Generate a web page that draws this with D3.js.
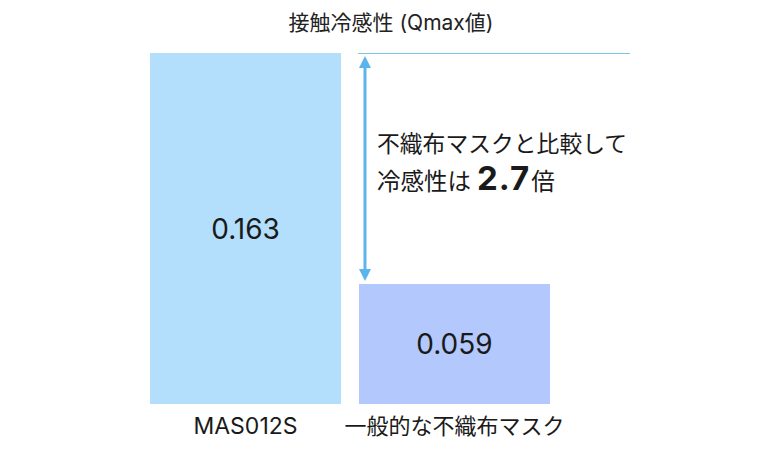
<!DOCTYPE html>
<html><head><meta charset="utf-8">
<script src="https://cdn.jsdelivr.net/npm/d3@7/dist/d3.min.js"></script>
<style>
html,body{margin:0;padding:0;background:#fff;}
svg{display:block;font-family:"Inter","Noto Sans CJK JP","Noto Sans",sans-serif;}
</style></head>
<body>
<svg id="chart" width="780" height="450"></svg>
<script>
const categories = ["MAS012S", "一般的な不織布マスク"];
const values = [0.163, 0.059];
const valueLabels = ["0.163", "0.059"];
const barColors = ["#b3dffc", "#b3c8fc"];
const title = "接触冷感性 (Qmax値)";
const noteLine1 = "不織布マスクと比較して";
const notePre = "冷感性は";
const ratio = "2.7";
const notePost = "倍";
const axisStart = 0.005; // estimated visual baseline value

const svg = d3.select("#chart");
const x = d3.scaleBand().domain(categories).range([150, 550]).paddingInner(0.086).paddingOuter(0);
const y = d3.scaleLinear().domain([axisStart, 0.163]).range([404, 53]);

svg.append("text").attr("x", 391).attr("y", 30).attr("text-anchor", "middle")
  .attr("font-size", 21).attr("fill", "#222").text(title);

svg.selectAll("rect.bar").data(values).join("rect").attr("class", "bar")
  .attr("x", (d, i) => x(categories[i])).attr("width", x.bandwidth())
  .attr("y", d => y(d)).attr("height", d => y(axisStart) - y(d))
  .attr("fill", (d, i) => barColors[i]);

svg.selectAll("text.val").data(values).join("text").attr("class", "val")
  .attr("x", (d, i) => x(categories[i]) + x.bandwidth() / 2)
  .attr("y", d => (y(d) + y(axisStart)) / 2 + 10)
  .attr("text-anchor", "middle").attr("font-size", 28).attr("fill", "#1a1a1a")
  .text((d, i) => valueLabels[i]);

svg.selectAll("text.cat").data(categories).join("text").attr("class", "cat")
  .attr("x", d => x(d) + x.bandwidth() / 2).attr("y", 434)
  .attr("text-anchor", "middle").attr("font-size", (d, i) => i === 0 ? 23 : 22).attr("fill", "#1a1a1a")
  .text(d => d);

// reference line at top value
const x2 = x(categories[1]);
svg.append("line").attr("x1", x2 - 1).attr("x2", 630)
  .attr("y1", y(values[0]) + 0.5).attr("y2", y(values[0]) + 0.5)
  .attr("stroke", "#7cc4e6").attr("stroke-width", 1.2);

// double arrow
const ax = x2 + 6;
const yTop = y(values[0]) + 3, yBot = y(values[1]) - 3;
const col = "#5bb5ec";
svg.append("line").attr("x1", ax).attr("x2", ax).attr("y1", yTop + 10).attr("y2", yBot - 10)
  .attr("stroke", col).attr("stroke-width", 3);
svg.append("path").attr("d", `M${ax},${yTop} L${ax - 6},${yTop + 12} L${ax + 6},${yTop + 12} Z`).attr("fill", col);
svg.append("path").attr("d", `M${ax},${yBot} L${ax - 6},${yBot - 12} L${ax + 6},${yBot - 12} Z`).attr("fill", col);

// annotation
svg.append("text").attr("x", 377).attr("y", 152).attr("font-size", 22.8).attr("fill", "#1a1a1a").text(noteLine1);
const t2 = svg.append("text").attr("x", 377).attr("y", 190).attr("fill", "#1a1a1a");
t2.append("tspan").attr("font-size", 23.5).text(notePre);
t2.append("tspan").attr("font-size", 33).attr("font-weight", "bold").attr("letter-spacing", 1).attr("dx", 6).text(ratio);
t2.append("tspan").attr("font-size", 23.5).attr("dx", 1).text(notePost);
</script>
</body></html>
